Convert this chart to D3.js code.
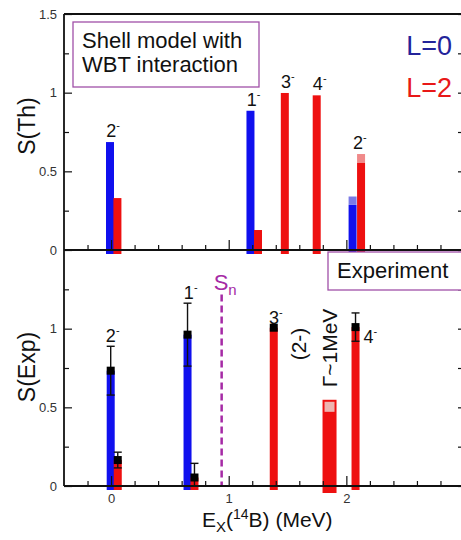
<!DOCTYPE html>
<html>
<head>
<meta charset="utf-8">
<script src="https://cdn.jsdelivr.net/npm/d3@7"></script>
<style>
  body { margin: 0; background: #fff; }
  svg { display: block; font-family: "Liberation Sans", Arial, sans-serif; }
</style>
</head>
<body>
<script>
// ---- data ----
// theory (shell model, WBT): bar energies (MeV), strengths, orbital L
var thE = [-0.009, 0.054, 1.185, 1.249, 1.477, 1.748, 2.053, 2.125];
var thS = [0.686, 0.33, 0.885, 0.127, 0.998, 0.983, 0.287, 0.553];
var thL = [0, 2, 0, 2, 2, 2, 0, 2];
// light upper parts on the last 2- state
var thCapE = [2.053, 2.125];
var thCapS = [0.34, 0.61];
var thCapL = [0, 2];
// theory state labels
var thStateE = [-0.009, 1.185, 1.477, 1.748, 2.09];
var thStateJ = ["2", "1", "3", "4", "2"];

// experiment: energies, strengths, errors, L
var expE = [-0.003, 0.057, 0.650, 0.709, 1.383, 2.078];
var expS = [0.733, 0.165, 0.962, 0.054, 1.006, 1.01];
var expErr = [0.155, 0.05, 0.2, 0.09, 0, 0.09];
var expL = [0, 2, 0, 2, 2, 2];
var expStateE = [-0.003, 0.66, 1.383, 2.078];
var expStateJ = ["2", "1", "3", "4"];
// broad (2-) resonance
var broadE = [1.857];
var broadS = [0.548];
var broadCapS = [0.535];
// neutron separation energy
var snE = 0.94, snTop = 1.217;

var yMajor = [0, 0.5, 1, 1.5];
var yMinor = [0.25, 0.75, 1.25];
var xMajor = [0, 1, 2, 3];
var xLabeled = [0, 1, 2];
var xMinor = d3.range(-0.2, 3.0, 0.2).filter(function(v) { return Math.abs(v - Math.round(v)) > 0.01; });

// ---- layout ----
var W = 461, H = 540;
var colors = {0: "#1010ee", 2: "#ee1010"};
var capColors = {0: "#7a7ae6", 2: "#f08a8a"};

var svg = d3.select("body").append("svg")
    .attr("width", W)
    .attr("height", H);

var x = d3.scaleLinear().domain([-0.4, 3.0]).range([64, 464]);
var yTop = d3.scaleLinear().domain([0, 1.5]).range([250, 14]);
var yBot = d3.scaleLinear().domain([0, 1.5]).range([486, 250]);

var barW = 8;

// axes for one panel
function drawAxes(y, showXLabels, yLabels) {
    var y0 = y(0);
    // minor y ticks left
    svg.append("g").attr("class", "axis")
        .attr("transform", "translate(" + x.range()[0] + ",0)")
        .call(d3.axisLeft(y).tickValues(yMinor).tickSize(-5).tickFormat(""));
    svg.append("g").attr("class", "axis ylab")
        .attr("transform", "translate(" + x.range()[0] + ",0)")
        .call(d3.axisLeft(y).tickValues(yLabels).tickSize(-8).tickPadding(7)
            .tickFormat(function(d) { return d3.format("")(d); }));
    // right side ticks
    svg.append("g").attr("class", "axis")
        .attr("transform", "translate(" + (x.range()[1] - 1) + ",0)")
        .call(d3.axisRight(y).tickValues(yMinor.concat(yMajor)).tickSize(-5).tickFormat(""));
    // x ticks
    svg.append("g").attr("class", "axis")
        .attr("transform", "translate(0," + y0 + ")")
        .call(d3.axisBottom(x).tickValues(xMinor).tickSize(-5).tickFormat(""));
    svg.append("g").attr("class", "axis xlab")
        .attr("transform", "translate(0," + y0 + ")")
        .call(d3.axisBottom(x).tickValues(xMajor).tickSize(-10).tickPadding(8)
            .tickFormat(function(d) {
                return showXLabels && xLabeled.indexOf(d) >= 0 ? d3.format("")(d) : "";
            }));
}

function drawBars(y, E, S, L) {
    svg.append("g").selectAll("rect")
        .data(E)
        .enter().append("rect")
        .attr("x", function(d) { return x(d) - barW / 2; })
        .attr("y", function(d, i) { return y(S[i]); })
        .attr("width", barW)
        .attr("height", function(d, i) { return y(0) + 4 - y(S[i]); })
        .attr("fill", function(d, i) { return colors[L[i]]; });
}

function stateLabel(xpos, ypos, j, anchor) {
    var t = svg.append("text")
        .attr("x", xpos)
        .attr("y", ypos)
        .attr("text-anchor", anchor || "middle")
        .attr("font-size", 18)
        .attr("fill", "#111");
    t.append("tspan").text(j);
    t.append("tspan").attr("dy", -8).attr("font-size", 11).text("-");
}

// ---- top panel: theory ----
drawBars(yTop, thE, thS, thL);
svg.append("g").selectAll("rect")
    .data(thCapE)
    .enter().append("rect")
    .attr("x", function(d) { return x(d) - barW / 2; })
    .attr("y", function(d, i) { return yTop(thCapS[i]); })
    .attr("width", barW)
    .attr("height", function(d, i) {
        var j = thE.indexOf(d);
        return yTop(thS[j]) - yTop(thCapS[i]);
    })
    .attr("fill", function(d, i) { return capColors[thCapL[i]]; });

thStateE.forEach(function(e, k) {
    var top = 0;
    thE.forEach(function(v, i) { if (Math.abs(v - e) < 0.1) top = Math.max(top, thS[i]); });
    thCapE.forEach(function(v, i) { if (Math.abs(v - e) < 0.1) top = Math.max(top, thCapS[i]); });
    stateLabel(x(e) + 3, yTop(top) - 5, thStateJ[k]);
});

// ---- bottom panel: experiment ----
// Sn dashed line
svg.append("line")
    .attr("x1", x(snE)).attr("x2", x(snE))
    .attr("y1", yBot(snTop)).attr("y2", yBot(0))
    .attr("stroke", "#a52aa5")
    .attr("stroke-width", 2.5)
    .attr("stroke-dasharray", "7,4");
var sn = svg.append("text")
    .attr("x", x(snE) - 8)
    .attr("y", yBot(snTop) - 5)
    .attr("font-size", 22)
    .attr("fill", "#a52aa5");
sn.append("tspan").text("S");
sn.append("tspan").attr("dy", 5).attr("font-size", 15).text("n");

drawBars(yBot, expE, expS, expL);

// broad resonance
svg.append("g").selectAll("rect.broad")
    .data(broadE)
    .enter().append("rect")
    .attr("x", function(d) { return x(d) - 7; })
    .attr("y", function(d, i) { return yBot(broadS[i]); })
    .attr("width", 14)
    .attr("height", function(d, i) { return yBot(0) + 7 - yBot(broadS[i]); })
    .attr("fill", colors[2]);
svg.append("g").selectAll("rect.bcap")
    .data(broadE)
    .enter().append("rect")
    .attr("x", function(d) { return x(d) - 5; })
    .attr("y", function(d, i) { return yBot(broadS[i]) + 2; })
    .attr("width", 10)
    .attr("height", function(d, i) { return yBot(broadCapS[i]) - yBot(broadS[i]) + 8; })
    .attr("fill", "#eeb4b0");

// error bars
var eb = svg.append("g").selectAll("g")
    .data(expE)
    .enter().append("g")
    .filter(function(d, i) { return expErr[i] > 0; });
eb.append("line")
    .attr("x1", function(d) { return x(d); })
    .attr("x2", function(d) { return x(d); })
    .attr("y1", function(d) { var j = expE.indexOf(d); return yBot(expS[j] + expErr[j]); })
    .attr("y2", function(d) { var j = expE.indexOf(d); return yBot(Math.max(0, expS[j] - expErr[j])); })
    .attr("stroke", "#111").attr("stroke-width", 1.4);
[1, -1].forEach(function(sgn) {
    eb.append("line")
        .attr("x1", function(d) { return x(d) - 4; })
        .attr("x2", function(d) { return x(d) + 4; })
        .attr("y1", function(d) { var j = expE.indexOf(d); return yBot(Math.max(0, expS[j] + sgn * expErr[j])); })
        .attr("y2", function(d) { var j = expE.indexOf(d); return yBot(Math.max(0, expS[j] + sgn * expErr[j])); })
        .attr("stroke", "#111").attr("stroke-width", 1.4);
});
// markers
svg.append("g").selectAll("rect")
    .data(expE)
    .enter().append("rect")
    .attr("x", function(d) { return x(d) - 4; })
    .attr("y", function(d, i) { return yBot(expS[i]) - 4; })
    .attr("width", 8)
    .attr("height", 8)
    .attr("fill", "#000");

expStateE.forEach(function(e, k) {
    var top = 0;
    expE.forEach(function(v, i) { if (Math.abs(v - e) < 0.1) top = Math.max(top, expS[i] + expErr[i]); });
    if (expStateJ[k] === "4") {
        stateLabel(x(e) + 8, yBot(top) + 30, expStateJ[k], "start");
    } else {
        stateLabel(x(e) + 2, yBot(top) - 4, expStateJ[k]);
    }
});

// rotated notes for the broad state
svg.append("text")
    .attr("transform", "translate(" + (x(broadE[0]) - 24) + ",344) rotate(-90)")
    .attr("text-anchor", "middle")
    .attr("font-size", 21)
    .attr("fill", "#111")
    .text("(2-)");
svg.append("text")
    .attr("transform", "translate(" + (x(broadE[0]) + 7) + ",348) rotate(-90)")
    .attr("text-anchor", "middle")
    .attr("font-size", 21)
    .attr("fill", "#111")
    .text("\u0393~1MeV");

// axes on top of bars
drawAxes(yTop, false, yMajor);
drawAxes(yBot, true, [0, 0.5, 1]);

svg.selectAll(".axis line").attr("stroke", "#111").attr("stroke-width", 1.2);
svg.selectAll(".axis path").remove();
svg.selectAll(".axis text").attr("font-size", 13).attr("fill", "#333")
    .attr("font-family", "'Liberation Sans', Arial, sans-serif");

// frame
var fx0 = x.range()[0], fx1 = x.range()[1] - 1;
[[fx0, 14, fx1, 14], [fx0, 250, fx1, 250], [fx0, 486, fx1, 486],
 [fx0, 14, fx0, 486], [fx1, 14, fx1, 486]].forEach(function(l) {
    svg.append("line")
        .attr("x1", l[0]).attr("y1", l[1]).attr("x2", l[2]).attr("y2", l[3])
        .attr("stroke", "#111").attr("stroke-width", 1.8);
});

// boxes
svg.append("rect")
    .attr("x", 73).attr("y", 22).attr("width", 186).attr("height", 65)
    .attr("fill", "#fff").attr("stroke", "#a050a8").attr("stroke-width", 1.3);
svg.append("text").attr("x", 82).attr("y", 48).attr("font-size", 22).attr("fill", "#111")
    .text("Shell model with");
svg.append("text").attr("x", 82).attr("y", 72).attr("font-size", 22).attr("fill", "#111")
    .text("WBT interaction");

svg.append("rect")
    .attr("x", 328).attr("y", 252).attr("width", 150).attr("height", 38)
    .attr("fill", "#fff").attr("stroke", "#a050a8").attr("stroke-width", 1.3);
svg.append("text").attr("x", 337).attr("y", 278).attr("font-size", 22).attr("fill", "#111")
    .text("Experiment");

// legend
svg.append("text").attr("x", 452).attr("y", 55).attr("text-anchor", "end")
    .attr("font-size", 27).attr("fill", "#23239a").text("L=0");
svg.append("text").attr("x", 452).attr("y", 97).attr("text-anchor", "end")
    .attr("font-size", 27).attr("fill", "#e81818").text("L=2");

// axis titles
svg.append("text")
    .attr("transform", "translate(35,126) rotate(-90)")
    .attr("text-anchor", "middle").attr("font-size", 23).attr("fill", "#111")
    .text("S(Th)");
svg.append("text")
    .attr("transform", "translate(35,367) rotate(-90)")
    .attr("text-anchor", "middle").attr("font-size", 23).attr("fill", "#111")
    .text("S(Exp)");
var xt = svg.append("text")
    .attr("x", 202).attr("y", 527)
    .attr("font-size", 21).attr("fill", "#111");
xt.append("tspan").text("E");
xt.append("tspan").attr("dy", 5).attr("font-size", 15).text("X");
xt.append("tspan").attr("dy", -5).text("(");
xt.append("tspan").attr("dy", -8).attr("font-size", 14).text("14");
xt.append("tspan").attr("dy", 8).text("B) (MeV)");
</script>
</body>
</html>
